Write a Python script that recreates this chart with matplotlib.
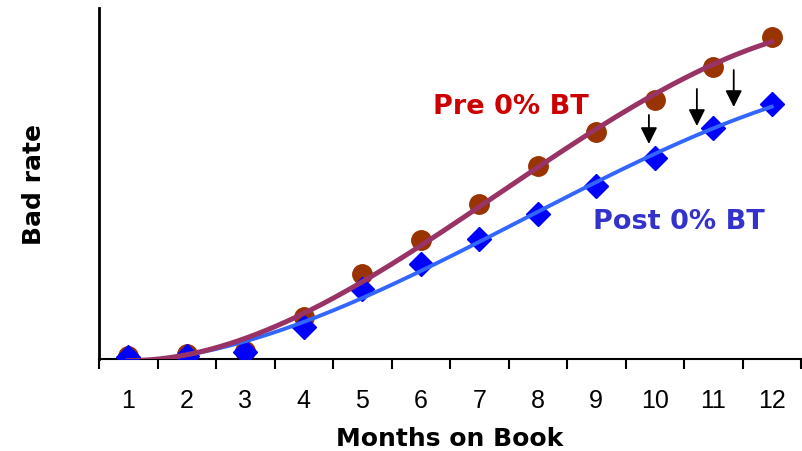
import matplotlib.pyplot as plt
import numpy as np

months = np.arange(1, 13)
pre_bt = [0.03, 0.05, 0.08, 0.42, 0.85, 1.19, 1.55, 1.93, 2.27, 2.59, 2.92, 3.22]
post_bt = [0.02, 0.03, 0.07, 0.32, 0.70, 0.95, 1.20, 1.45, 1.73, 2.01, 2.31, 2.55]

# arrows showing the drop (x, y start, y end)
arrow_x = [9.90, 10.72, 11.35]
arrow_top = [2.44, 2.70, 2.89]
arrow_tip = [2.15, 2.33, 2.52]

fig = plt.figure(figsize=(8.02, 4.52), dpi=100)
ax = fig.add_axes([99 / 802, 1 - 360 / 452, 702 / 802, 351 / 452])

ax.plot(months, pre_bt, "o", color="#993300", markersize=14, zorder=2)
ax.plot(months, post_bt, "D", color="#0000FF", markersize=12, zorder=3)

# smooth trend lines
xs = np.linspace(1, 12, 200)
post_fit = np.polyval(np.polyfit(months, post_bt, 3), xs)
pre_fit = np.polyval(np.polyfit(months, pre_bt, 3), xs)
ax.plot(xs, post_fit, color="#3366FF", lw=2.8, zorder=4)
ax.plot(xs, pre_fit, color="#993366", lw=3.6, zorder=5)

for x, y0, y1 in zip(arrow_x, arrow_top, arrow_tip):
    ax.annotate("", xy=(x, y1), xytext=(x, y0),
                arrowprops=dict(arrowstyle="-|>", color="black", lw=1.3,
                                mutation_scale=25, shrinkA=0, shrinkB=0))

ax.text(6.21, 2.53, "Pre 0% BT", color="#CC0000", fontsize=19.5,
        fontweight="bold", va="center")
ax.text(8.94, 1.38, "Post 0% BT", color="#3333CC", fontsize=19.5,
        fontweight="bold", va="center")

ax.set_xlim(0.5, 12.5)
ax.set_ylim(0, 3.51)
ax.set_xticks(np.arange(0.5, 13, 1))
ax.set_xticklabels([])
ax.set_xticks(months, minor=True)
ax.set_xticklabels([str(m) for m in months], minor=True, fontsize=18,
                   family="Liberation Sans")
ax.tick_params(axis="x", which="major", direction="out", length=7, width=1.5)
ax.tick_params(axis="x", which="minor", length=0, pad=21)
ax.set_yticks([])

for s in ["top", "right"]:
    ax.spines[s].set_visible(False)
ax.spines["left"].set_linewidth(2)
ax.spines["bottom"].set_linewidth(1.5)

ax.set_xlabel("Months on Book", fontsize=18, fontweight="bold", labelpad=10)
ax.set_ylabel("Bad rate", fontsize=18, fontweight="bold", labelpad=38)

plt.savefig("out.png", dpi=100)
